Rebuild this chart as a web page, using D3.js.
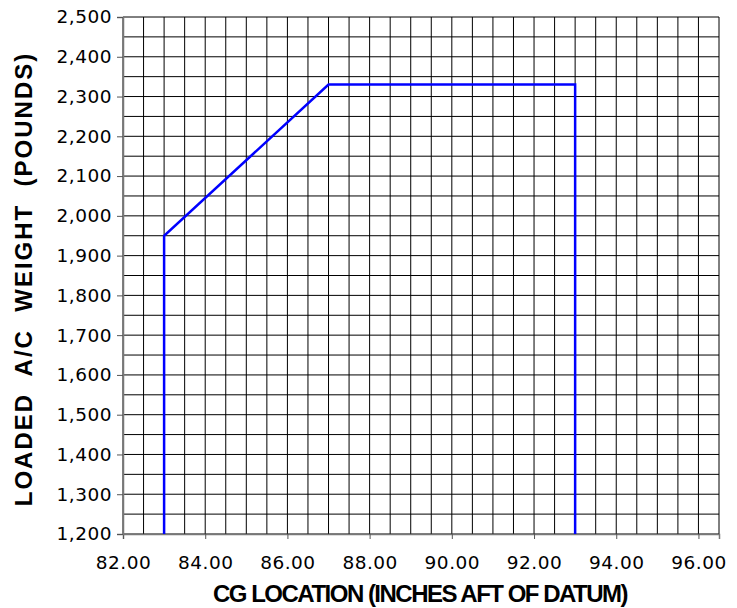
<!DOCTYPE html>
<html>
<head>
<meta charset="utf-8">
<script src="https://cdn.jsdelivr.net/npm/d3@7"></script>
<style>
  body { margin: 0; background: #fff; }
</style>
</head>
<body>
<div id="chart"></div>
<script>
// envelope corners (CG inches, weight lbs)
const cgValues = [83, 83, 87, 93, 93];
const weightValues = [1200, 1950, 2330, 2330, 1200];

const xTickValues = [82, 84, 86, 88, 90, 92, 94, 96];
const yTickValues = [1200, 1300, 1400, 1500, 1600, 1700, 1800, 1900, 2000, 2100, 2200, 2300, 2400, 2500];

const width = 737;
const height = 608;
const margin = { top: 17, right: 18, bottom: 74, left: 123 };

const svg = d3
  .select("#chart")
  .append("svg")
  .attr("width", width)
  .attr("height", height);

const x = d3
  .scaleLinear()
  .domain([82, 96.5])
  .range([margin.left, width - margin.right]);

const y = d3
  .scaleLinear()
  .domain([1200, 2500])
  .range([height - margin.bottom, margin.top]);

// minor grid
const xGrid = d3.range(82, 96.5 + 0.01, 0.5);
const yGrid = d3.range(1200, 2500 + 1, 50);

svg
  .append("g")
  .selectAll("line")
  .data(xGrid)
  .enter()
  .append("line")
  .attr("x1", (d) => x(d))
  .attr("x2", (d) => x(d))
  .attr("y1", y(1200))
  .attr("y2", y(2500))
  .attr("stroke", "#000")
  .attr("stroke-width", 1);

svg
  .append("g")
  .selectAll("line")
  .data(yGrid)
  .enter()
  .append("line")
  .attr("x1", x(82))
  .attr("x2", x(96.5))
  .attr("y1", (d) => y(d))
  .attr("y2", (d) => y(d))
  .attr("stroke", "#000")
  .attr("stroke-width", 1);

// axes
const xAxis = svg
  .append("g")
  .attr("transform", `translate(0, ${y(1200)})`)
  .call(
    d3.axisBottom(x)
      .tickValues(xTickValues)
      .tickFormat(d3.format(".2f"))
      .tickSize(5)
      .tickPadding(17)
  );

const yAxis = svg
  .append("g")
  .attr("transform", `translate(${x(82)}, 0)`)
  .call(
    d3.axisLeft(y)
      .tickValues(yTickValues)
      .tickFormat(d3.format(","))
      .tickSize(6)
      .tickPadding(5)
  );

[xAxis, yAxis].forEach((a) => {
  a.attr("font-size", null).attr("font-family", null);
  a.select(".domain").attr("stroke", "#777").attr("stroke-width", 1.5);
  a.selectAll(".tick line").attr("stroke", "#555");
  a.selectAll("text")
    .attr("fill", "#000")
    .style("font-family", "'DejaVu Sans', Verdana, sans-serif")
    .style("font-size", "18.5px")
    .style("letter-spacing", "0.5px");
});

// envelope
const pts = cgValues.map((c, i) => [c, weightValues[i]]);
const line = d3
  .line()
  .x((d) => x(d[0]))
  .y((d) => y(d[1]));

svg
  .append("path")
  .datum(pts)
  .attr("d", line)
  .attr("fill", "none")
  .attr("stroke", "#0000ff")
  .attr("stroke-width", 2.5);

// axis titles
svg
  .append("text")
  .attr("x", 420)
  .attr("y", 602)
  .attr("text-anchor", "middle")
  .style("font-family", "'Liberation Sans', Arial, sans-serif")
  .style("font-weight", "bold")
  .style("font-size", "24px")
  .style("letter-spacing", "-1.5px")
  .text("CG LOCATION (INCHES AFT OF DATUM)");

svg
  .append("text")
  .attr("transform", `translate(32, 279) rotate(-90)`)
  .attr("text-anchor", "middle")
  .style("font-family", "'Liberation Sans', Arial, sans-serif")
  .style("font-weight", "bold")
  .style("font-size", "24px")
  .style("letter-spacing", "2px")
  .style("white-space", "pre")
  .text("LOADED  A/C  WEIGHT  (POUNDS)");
</script>
</body>
</html>
